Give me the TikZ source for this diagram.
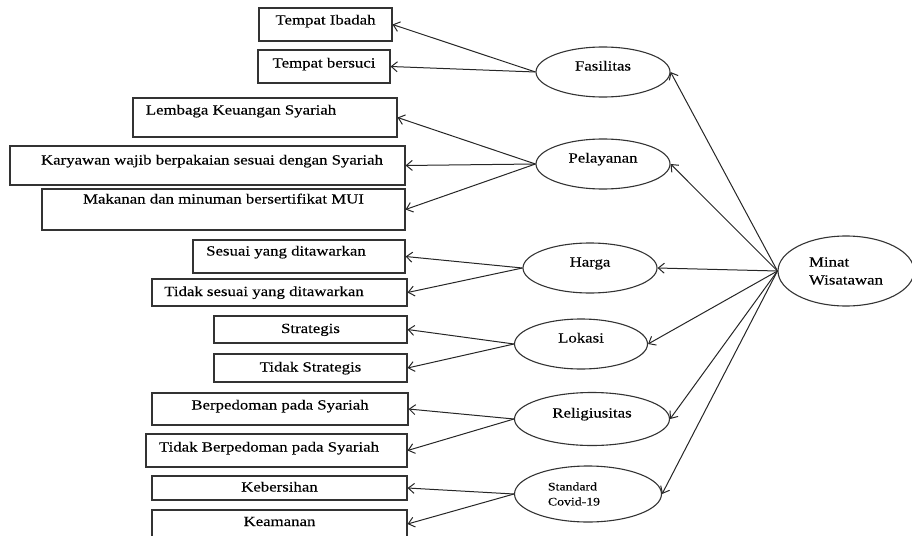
\documentclass[tikz,border=0pt]{standalone}
\usepackage{fontspec}
\setmainfont{Liberation Serif}[FakeStretch=1.2,FakeBold=0.2]
\usetikzlibrary{shapes.geometric,arrows.meta}

\begin{document}
\begin{tikzpicture}[x=1pt,y=-1pt,
  >={Straight Barb[length=6pt,width=10pt]},
  itembox/.style={draw=black!80, line width=1.1pt, rectangle, inner sep=0pt,
    text height=10pt, text depth=3pt, font=\fontsize{14}{17}\selectfont},
  varnode/.style={draw=black!80, line width=1.1pt, ellipse, inner sep=0pt,
    font=\fontsize{14}{18}\selectfont},
  varone/.style={varnode, text height=10pt, text depth=13pt},
  padright/.style={execute at end node={\hspace*{#1}}},
  link/.style={->, draw=black!85, line width=1pt}]
\useasboundingbox (0,0) rectangle (912,535);
% indikator
\node[itembox, minimum width=133pt, minimum height=33pt, text depth=10pt] (ib) at (325.5,24.5) {Tempat Ibadah};
\node[itembox, minimum width=132pt, minimum height=33pt, text depth=8pt] (bs) at (324,66.5) {Tempat bersuci};
\node[itembox, minimum width=264pt, minimum height=39pt, text depth=16pt, padright=48pt] (lks) at (265,117.5) {Lembaga Keuangan Syariah};
\node[itembox, minimum width=395pt, minimum height=39pt, text depth=12pt] (kry) at (207.5,165.5) {\hspace*{9pt}Karyawan wajib berpakaian sesuai dengan Syariah};
\node[itembox, minimum width=363pt, minimum height=41pt, text depth=22pt] (mkn) at (223.5,209.5) {Makanan dan minuman bersertifikat MUI};
\node[itembox, minimum width=212pt, minimum height=33pt, text depth=12pt, padright=26pt] (ssi) at (299,256.5) {Sesuai yang ditawarkan};
\node[itembox, minimum width=255pt, minimum height=27pt, padright=31pt] (tss) at (279.5,292.5) {Tidak sesuai yang ditawarkan};
\node[itembox, minimum width=193pt, minimum height=27pt] (str) at (310.5,329.5) {Strategis};
\node[itembox, minimum width=193pt, minimum height=28pt] (tst) at (310.5,368) {Tidak Strategis};
\node[itembox, minimum width=256pt, minimum height=32pt, text depth=9pt] (bps) at (280,409) {Berpedoman pada Syariah};
\node[itembox, minimum width=261pt, minimum height=33pt, text depth=8pt, padright=15pt] (tbs) at (276.5,450.5) {Tidak Berpedoman pada Syariah};
\node[itembox, minimum width=255pt, minimum height=24pt] (kbr) at (279.5,488) {Kebersihan};
\node[itembox, minimum width=255pt, minimum height=28pt, text depth=6pt] (kmn) at (279.5,524) {Keamanan};
% variabel
\node[varone, minimum width=134pt, minimum height=50pt] (fas) at (603,72) {Fasilitas};
\node[varone, minimum width=134pt, minimum height=50pt] (pel) at (603,164) {Pelayanan};
\node[varone, minimum width=134pt, minimum height=50pt] (hrg) at (590,268) {Harga};
\node[varone, minimum width=133pt, minimum height=50pt] (lok) at (581,344) {Lokasi};
\node[varone, minimum width=155pt, minimum height=53pt] (rel) at (592,419) {Religiusitas};
\node[varnode, minimum width=147pt, minimum height=56pt, align=left,
  font=\fontsize{11.5}{15}\selectfont] (std) at (588,494) {Standard\\Covid-19\hspace*{28pt}};
\node[varnode, minimum width=136pt, minimum height=70pt, align=left] (mw) at (846,271) {Minat\\Wisatawan};
% panah
\draw[link] (fas.west) -- (ib.east);
\draw[link] (fas.west) -- (bs.east);
\draw[link] (pel.west) -- (lks.east);
\draw[link] (pel.west) -- (kry.east);
\draw[link] (pel.west) -- (mkn.east);
\draw[link] (hrg.west) -- (ssi.east);
\draw[link] (hrg.west) -- (tss.east);
\draw[link] (lok.west) -- (str.east);
\draw[link] (lok.west) -- (tst.east);
\draw[link] (rel.west) -- (bps.east);
\draw[link] (rel.west) -- (tbs.east);
\draw[link] (std.west) -- (kbr.east);
\draw[link] (std.west) -- (kmn.east);
\draw[link] (mw.west) -- (fas.east);
\draw[link] (mw.west) -- (pel.east);
\draw[link] (mw.west) -- (hrg.east);
\draw[link] (mw.west) -- (lok.east);
\draw[link] (mw.west) -- (rel.east);
\draw[link] (mw.west) -- (std.east);
\end{tikzpicture}
\end{document}
